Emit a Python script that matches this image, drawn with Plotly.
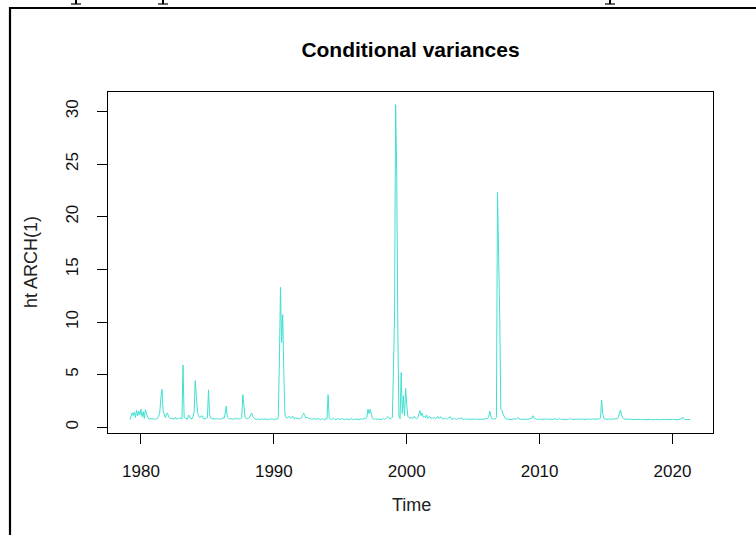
import plotly.graph_objects as go

# ---------------- data (monthly, Mar 1979 .. May 2021) ----------------
start_year = 1979
start_month = 3  # March
ht = {
    1979: [0.72, 1.05, 1.38, 1.12, 1.45, 0.92, 1.62, 1.08, 1.55, 1.18],
    1980: [1.72, 1.02, 1.48, 0.85, 1.68, 1.25, 0.92, 0.80, 0.78, 0.84, 0.76, 0.82],
    1981: [0.79, 0.75, 0.83, 0.86, 1.05, 1.42, 2.82, 3.62, 1.58, 1.12, 0.92, 1.28],
    1982: [1.35, 0.98, 0.85, 0.80, 0.88, 0.76, 0.82, 0.95, 0.78, 0.84, 0.80, 0.91],
    1983: [0.85, 0.78, 5.92, 0.95, 0.86, 0.80, 0.77, 1.18, 0.90, 0.82, 0.78, 1.02],
    1984: [1.45, 4.42, 3.05, 1.52, 1.10, 0.92, 0.98, 1.12, 0.88, 0.84, 0.80, 0.86],
    1985: [0.90, 3.55, 1.22, 0.88, 0.82, 0.79, 0.86, 0.76, 0.80, 0.84, 0.78, 0.82],
    1986: [0.76, 0.80, 0.92, 0.84, 1.25, 2.02, 0.98, 0.82, 0.78, 0.85, 0.80, 0.76],
    1987: [0.82, 0.79, 0.88, 0.80, 0.84, 0.78, 0.81, 0.90, 3.10, 1.78, 0.95, 0.86],
    1988: [0.80, 0.84, 0.92, 1.15, 1.36, 1.02, 0.86, 0.79, 0.74, 0.77, 0.80, 0.73],
    1989: [0.76, 0.72, 0.79, 0.75, 0.81, 0.74, 0.78, 0.72, 0.76, 0.84, 0.75, 0.79],
    1990: [0.73, 0.77, 0.82, 0.76, 0.92, 6.10, 13.30, 8.05, 10.70, 5.20, 1.25, 0.92],
    1991: [0.88, 0.96, 1.05, 0.86, 0.92, 1.08, 0.85, 0.82, 0.95, 0.80, 0.86, 0.78],
    1992: [0.82, 0.90, 1.15, 1.35, 1.10, 0.88, 0.96, 0.84, 0.80, 0.87, 0.76, 0.81],
    1993: [0.78, 0.84, 0.75, 0.80, 0.86, 0.77, 0.73, 0.79, 0.82, 0.75, 0.78, 0.74],
    1994: [0.80, 3.10, 0.92, 0.78, 0.74, 0.81, 0.86, 0.76, 0.72, 0.78, 0.83, 0.75],
    1995: [0.74, 0.78, 0.82, 0.76, 0.72, 0.79, 0.75, 0.80, 0.73, 0.77, 0.84, 0.76],
    1996: [0.72, 0.76, 0.80, 0.74, 0.78, 0.73, 0.75, 0.82, 0.76, 0.79, 0.86, 0.80],
    1997: [0.95, 1.72, 1.30, 1.70, 1.12, 0.86, 0.80, 0.76, 0.82, 0.78, 0.74, 0.80],
    1998: [0.76, 0.72, 0.78, 0.84, 0.75, 0.80, 0.92, 1.02, 0.84, 0.78, 0.86, 0.90],
    1999: [5.30, 10.60, 30.64, 23.80, 8.90, 1.05, 0.82, 5.20, 1.30, 3.00, 1.10, 3.70],
    2000: [2.20, 1.05, 0.92, 0.86, 0.95, 0.82, 0.88, 1.05, 0.86, 0.80, 0.92, 1.30],
    2001: [1.58, 1.12, 1.35, 0.96, 1.05, 0.90, 1.18, 0.86, 0.94, 1.02, 0.84, 0.90],
    2002: [0.86, 0.95, 0.80, 0.88, 1.05, 0.84, 0.92, 1.00, 0.82, 0.78, 0.86, 0.80],
    2003: [0.84, 0.78, 0.88, 1.02, 0.82, 0.76, 0.80, 0.86, 0.78, 0.74, 0.82, 0.77],
    2004: [0.80, 0.92, 0.78, 0.74, 0.81, 0.76, 0.79, 0.73, 0.77, 0.80, 0.75, 0.78],
    2005: [0.74, 0.78, 0.76, 0.80, 0.73, 0.77, 0.75, 0.79, 0.74, 0.76, 0.82, 0.78],
    2006: [0.80, 0.86, 0.95, 1.55, 1.05, 0.80, 0.76, 0.82, 0.78, 0.95, 22.30, 17.80],
    2007: [10.50, 1.72, 1.60, 1.25, 1.02, 0.86, 0.80, 0.78, 0.75, 0.80, 0.77, 0.74],
    2008: [0.78, 0.82, 0.76, 0.80, 0.92, 0.84, 0.78, 0.75, 0.79, 0.74, 0.77, 0.80],
    2009: [0.76, 0.74, 0.80, 0.78, 0.86, 0.82, 1.10, 0.90, 0.80, 0.76, 0.78, 0.74],
    2010: [0.78, 0.75, 0.80, 0.76, 0.73, 0.82, 0.77, 0.74, 0.79, 0.76, 0.80, 0.75],
    2011: [0.74, 0.82, 0.76, 0.79, 0.73, 0.78, 0.86, 0.75, 0.80, 0.74, 0.77, 0.79],
    2012: [0.76, 0.73, 0.80, 0.77, 0.84, 0.75, 0.78, 0.72, 0.79, 0.76, 0.74, 0.80],
    2013: [0.75, 0.78, 0.74, 0.80, 0.76, 0.73, 0.79, 0.77, 0.75, 0.81, 0.76, 0.74],
    2014: [0.78, 0.76, 0.80, 0.74, 0.77, 0.82, 0.79, 0.90, 2.60, 1.30, 0.86, 0.80],
    2015: [0.78, 0.76, 0.74, 0.80, 0.77, 0.75, 0.79, 0.76, 0.82, 0.78, 0.80, 0.92],
    2016: [1.40, 1.65, 1.20, 0.90, 0.82, 0.78, 0.76, 0.80, 0.74, 0.77, 0.75, 0.78],
    2017: [0.74, 0.76, 0.73, 0.75, 0.77, 0.72, 0.74, 0.76, 0.73, 0.75, 0.72, 0.74],
    2018: [0.73, 0.75, 0.72, 0.74, 0.76, 0.73, 0.71, 0.74, 0.72, 0.75, 0.73, 0.76],
    2019: [0.74, 0.72, 0.75, 0.73, 0.71, 0.74, 0.76, 0.72, 0.73, 0.75, 0.72, 0.74],
    2020: [0.73, 0.75, 0.72, 0.74, 0.71, 0.73, 0.76, 0.74, 0.82, 0.98, 0.80, 0.74],
    2021: [0.72, 0.74, 0.71, 0.73, 0.75],
}
x_ticks = [1980, 1990, 2000, 2010, 2020]
y_ticks = [0, 5, 10, 15, 20, 25, 30]

title_text = "Conditional variances"
x_title = "Time"
y_title = "ht ARCH(1)"

# ---------------- build series ----------------
values = []
for yr in sorted(ht):
    values.extend(ht[yr])
t0 = start_year + (start_month - 1) / 12
times = [t0 + i / 12 for i in range(len(values))]

# ---------------- geometry ----------------
W, H = 756, 535
L, R, T, B = 108, 713, 92, 433  # plot box in pixels


def px(xp):
    return (xp - L) / (R - L)


def py(yp):
    return (B - yp) / (B - T)


FONT = "Liberation Sans, Arial, Helvetica, sans-serif"

fig = go.Figure()
fig.add_trace(go.Scatter(
    x=times, y=values, mode="lines",
    line=dict(color="#40E0D0", width=1.0),
    hoverinfo="x+y", showlegend=False,
))

axis_common = dict(
    showgrid=False, zeroline=False, showline=True, linecolor="black",
    linewidth=1.3, mirror=True, ticks="outside", ticklen=10, tickwidth=1.2,
    tickcolor="black", tickfont=dict(family=FONT, size=17, color="#111"),
)

fig.update_layout(
    width=W, height=H,
    margin=dict(l=L, r=W - R, t=T, b=H - B, pad=0),
    paper_bgcolor="white", plot_bgcolor="white",
    title=dict(text="<b>" + title_text + "</b>", x=((L + R) / 2) / W, xanchor="center",
               y=1 - 50 / H, yanchor="middle", xref="container", yref="container",
               font=dict(family=FONT, size=21, color="black")),
    xaxis=dict(range=[1977.52, 2023.05], tickvals=x_ticks,
               ticktext=[str(v) for v in x_ticks], ticklabelstandoff=12, **axis_common),
    yaxis=dict(range=[-0.54, 31.84], tickvals=y_ticks,
               ticktext=[str(v) for v in y_ticks], tickangle=-90,
               ticklabelstandoff=12, **axis_common),
)

fig.add_annotation(text=x_title, xref="paper", yref="paper", x=px(411), y=py(505),
                   showarrow=False, xanchor="center", yanchor="middle",
                   font=dict(family=FONT, size=18, color="#222"))
fig.add_annotation(text=y_title, xref="paper", yref="paper", x=px(31), y=py(262),
                   showarrow=False, xanchor="center", yanchor="middle", textangle=-90,
                   font=dict(family=FONT, size=18, color="#222"))

# outer frame (left and top edges visible)
fig.add_shape(type="rect", xref="paper", yref="paper",
              x0=px(10), x1=px(790), y0=py(8), y1=py(580),
              line=dict(color="black", width=2.2), fillcolor="rgba(0,0,0,0)", layer="above")

# cut-off descenders of the text line above the frame
for cx in [76, 163, 610]:
    fig.add_shape(type="line", xref="paper", yref="paper",
                  x0=px(cx), x1=px(cx), y0=py(-4), y1=py(4.0),
                  line=dict(color="black", width=2))
    fig.add_shape(type="line", xref="paper", yref="paper",
                  x0=px(cx - 5), x1=px(cx + 5), y0=py(4.0), y1=py(4.0),
                  line=dict(color="black", width=1.2))

fig.write_html(
    "out.html",
    config={"displayModeBar": False},
    post_script="document.body.style.margin='0';document.body.style.overflow='hidden';",
)
